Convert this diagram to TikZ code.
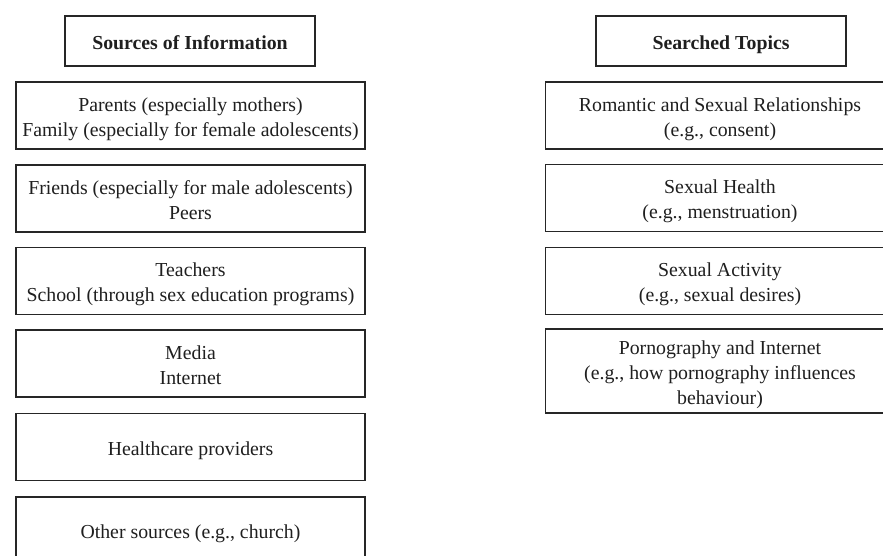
\documentclass[tikz,border=0pt]{standalone}
\usepackage{fontspec}
\setmainfont{Liberation Serif}
\newcommand\topstrut{\rule{0pt}{24pt}}
\begin{document}
\begin{tikzpicture}[x=1pt,y=-1pt,
  txt/.style={font=\fontsize{19.8}{25}\selectfont, text=black!88},
  box/.style={txt, draw=black!85, line width=1.4pt, minimum width=349pt, minimum height=67pt, align=center, inner sep=0pt},
  hdr/.style={box, minimum width=250pt, minimum height=50pt, font=\fontsize{19.8}{25}\selectfont\bfseries}]
\useasboundingbox (0,0) rectangle (883,556);
\clip (0,0) rectangle (883,556);
\fill[white] (0,0) rectangle (883,556);
% left column
\node[hdr] (sh) at (190,41) {\topstrut Sources of Information\strut};
\node[box] (s1) at (190.5,115.5) {\topstrut Parents (especially mothers)\\Family (especially for female adolescents)\strut};
\node[box] (s2) at (190.5,198.5) {\topstrut Friends (especially for male adolescents)\\Peers\strut};
\node[box] (s3) at (190.5,281) {\topstrut Teachers\\School (through sex education programs)\strut};
\node[box] (s4) at (190.5,363.5) {\topstrut Media\\Internet\strut};
\node[box] (s5) at (190.5,447) {\topstrut Healthcare providers\strut};
\node[box] (s6) at (190.5,530.5) {\topstrut Other sources (e.g., church)\strut};
% right column
\node[hdr] (th) at (721,41) {\topstrut Searched Topics\strut};
\node[box] (t1) at (720,115.5) {\topstrut Romantic and Sexual Relationships\\(e.g., consent)\strut};
\node[box] (t2) at (720,198) {\topstrut Sexual Health\\(e.g., menstruation)\strut};
\node[box] (t3) at (720,281) {\topstrut Sexual Activity\\(e.g., sexual desires)\strut};
\node[box, minimum height=84pt] (t4) at (720,371) {\topstrut Pornography and Internet\\(e.g., how pornography influences\\behaviour)\strut};
\end{tikzpicture}
\end{document}
